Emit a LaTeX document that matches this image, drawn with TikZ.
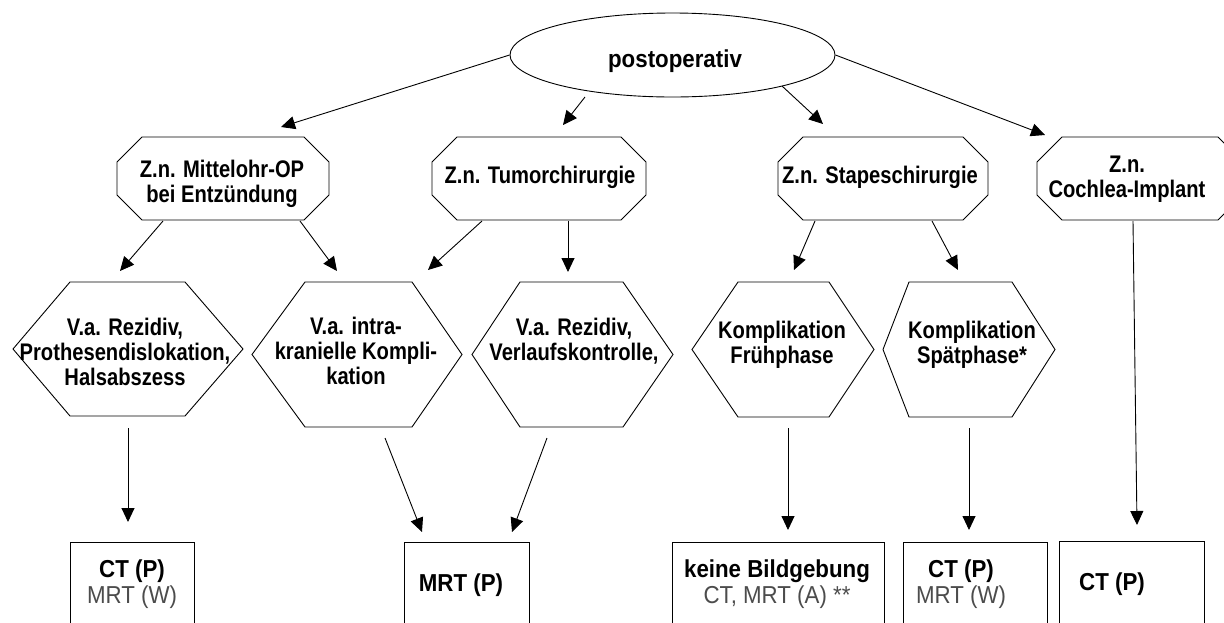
\documentclass[tikz,border=0pt]{standalone}
\usepackage{fontspec}
\setmainfont{Liberation Sans}
\newfontfamily\nf[FakeStretch=0.84]{Liberation Sans}
\newfontfamily\wf[FakeStretch=0.91]{Liberation Sans}
\usetikzlibrary{arrows.meta,calc,shapes.geometric}
\definecolor{soft}{gray}{0.3}
\tikzset{
  geom/.style={rectangle, inner sep=0pt, outer sep=0pt},
  outline/.style={draw=black, line width=0.9pt, line join=miter},
  arr/.style={draw=black, line width=0.9pt, -{Triangle[length=14pt,width=13pt]}},
  lbl/.style={inner sep=0pt, anchor=base, align=center, font=\nf\bfseries\fontsize{24}{25}\selectfont},
  lblw/.style={inner sep=0pt, anchor=base, align=center, font=\wf\bfseries\fontsize{24.5}{26}\selectfont},
  resbox/.style={geom, outline, minimum height=118pt}
}
\newcommand\regtxt{\wf\mdseries\color{soft}}
\newcommand\octo[1]{\draw[outline] ($(#1.north west)+(25,0)$) -- ($(#1.north east)+(-25,0)$) -- ($(#1.north east)+(0,25)$) -- ($(#1.south east)+(0,-25)$) -- ($(#1.south east)+(-25,0)$) -- ($(#1.south west)+(25,0)$) -- ($(#1.south west)+(0,-25)$) -- ($(#1.north west)+(0,25)$) -- cycle;}
\newcommand\hexa[3]{\draw[outline] ($(#1.north west)+(#2,0)$) -- ($(#1.north east)+(-#3,0)$) -- (#1.east) -- ($(#1.south east)+(-#3,0)$) -- ($(#1.south west)+(#2,0)$) -- (#1.west) -- cycle;}
\begin{document}
\begin{tikzpicture}[x=1pt,y=-1pt]
\useasboundingbox (0,0) rectangle (1224,622);
\fill[white] (0,0) rectangle (1224,622);
\clip (0,0) rectangle (1224,622);

% top ellipse
\node[draw=black, line width=0.9pt, ellipse, minimum width=325pt, minimum height=84pt, inner sep=0pt] (post) at (672.5,55) {};
\node[lblw] (t0) at (675,67) {postoperativ};

% first row: octagons
\node[geom, minimum width=212pt, minimum height=83pt] (o1) at (223,178.5) {};
\node[geom, minimum width=214pt, minimum height=83pt] (o2) at (539,178.5) {};
\node[geom, minimum width=210pt, minimum height=83pt] (o3) at (883,178.5) {};
\node[geom, minimum width=206pt, minimum height=83pt] (o4) at (1140,178.5) {};
\octo{o1}\octo{o2}\octo{o3}\octo{o4}
\node[lbl] (t1) at (222,202) {Z.n. Mittelohr-OP\\bei Entzündung};
\node[lbl] (t2) at (540,183) {Z.n. Tumorchirurgie};
\node[lbl] (t3) at (880,183) {Z.n. Stapeschirurgie};
\node[lbl] (t4) at (1127,197) {Z.n.\\Cochlea-Implant};

% second row: hexagons
\node[geom, minimum width=230pt, minimum height=134pt] (h1) at (128,349) {};
\node[geom, minimum width=210pt, minimum height=145pt] (h2) at (357,354.5) {};
\node[geom, minimum width=201pt, minimum height=145pt] (h3) at (572.5,354.5) {};
\node[geom, minimum width=182pt, minimum height=135pt] (h4) at (783,349.5) {};
\node[geom, minimum width=172pt, minimum height=135pt] (h5) at (969,349.5) {};
\hexa{h1}{57}{58}\hexa{h2}{53}{50}\hexa{h3}{48}{50}\hexa{h4}{46}{45}\hexa{h5}{26}{43}
\node[lbl] (t5) at (125,385) {V.a. Rezidiv,\\Prothesendislokation,\\Halsabszess};
\node[lbl] (t6) at (356,384) {V.a. intra-\\kranielle Kompli-\\kation};
\node[lbl] (t7) at (574,360) {V.a. Rezidiv,\\Verlaufskontrolle,};
\node[lbl] (t8) at (782,363) {Komplikation\\Frühphase};
\node[lbl] (t9) at (972,363) {Komplikation\\Spätphase*};

% third row: result boxes
\node[resbox, minimum width=124pt] (b1) at (132,601) {};
\node[resbox, minimum width=125pt] (b2) at (466.5,601) {};
\node[resbox, minimum width=212pt] (b3) at (778,601) {};
\node[resbox, minimum width=144pt] (b4) at (975,601) {};
\node[resbox, minimum width=145pt] (b5) at (1131.5,600) {};
\node[lblw] (t10) at (132,603) {CT (P)\\{\regtxt MRT (W)}};
\node[lblw] (t11) at (461,591) {MRT (P)};
\node[lblw] (t12) at (777,603) {keine Bildgebung\\{\regtxt CT, MRT (A) **}};
\node[lblw] (t13) at (961,603) {CT (P)\\{\regtxt MRT (W)}};
\node[lblw] (t14) at (1112,590) {CT (P)};

% connectors
\draw[arr] (post.west) -- ($(o1.north)+(58,-10)$);
\draw[arr] ($(post.center)+(-87.5,42)$) -- ($(o2.north)+(24,-12)$);
\draw[arr] ($(post.center)+(109.5,31)$) -- ($(o3.north)+(-60,-13)$);
\draw[arr] (post.east) -- ($(o4.north west)+(8,-2)$);

\draw[arr] ($(o1.south)+(-60,1)$) -- ($(h1.north)+(-8,-11)$);
\draw[arr] ($(o1.south)+(77,1)$) -- ($(h2.north)+(-20,-11)$);
\draw[arr] ($(o2.south)+(-57,1)$) -- ($(h2.north)+(71,-12)$);
\draw[arr] ($(o2.south)+(29,1)$) -- ($(h3.north)+(-4.5,-10)$);
\draw[arr] ($(o3.south)+(-68,1)$) -- ($(h4.north)+(11,-12)$);
\draw[arr] ($(o3.south)+(49,1)$) -- ($(h5.north)+(-11,-12)$);
\draw[arr] ($(o4.south)+(-7,1)$) -- ($(b5.north)+(5.5,-16)$);

\draw[arr] ($(h1.south)+(0,12)$) -- ($(b1.north)+(-4,-20)$);
\draw[arr] ($(h2.south)+(28,11)$) -- ($(b2.north)+(-44.5,-10)$);
\draw[arr] ($(h3.south)+(-25.5,11)$) -- ($(b2.north)+(45.5,-10)$);
\draw[arr] ($(h4.south)+(5,11)$) -- ($(b3.north)+(10,-12)$);
\draw[arr] ($(h5.south)+(0,11)$) -- ($(b4.north)+(-6,-12)$);
\end{tikzpicture}
\end{document}
